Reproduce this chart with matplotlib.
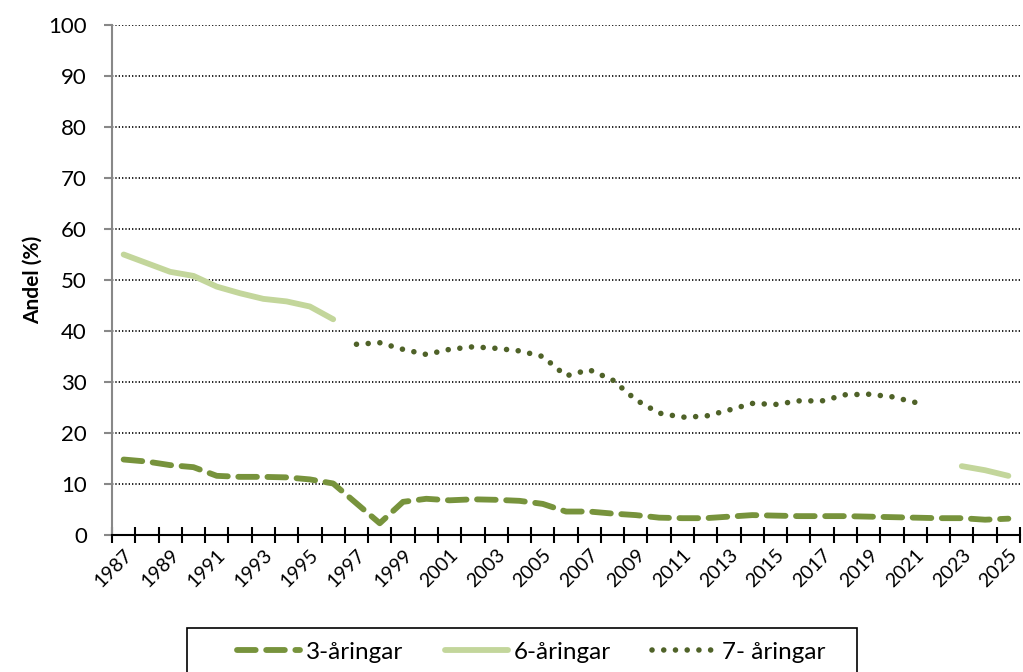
import numpy as np
import matplotlib.pyplot as plt
from matplotlib.patches import Rectangle

# ---------------------------------------------------------
# Data: share (%) per year for each age group
# ---------------------------------------------------------
years = list(range(1987, 2026))
nan = np.nan

# 3-year-olds: full series
aged3 = [14.8, 14.4, 13.7, 13.3, 11.6, 11.4, 11.4, 11.3, 10.9, 10.1,
         6.2, 2.3, 6.5, 7.1, 6.8, 7.0, 6.9, 6.7, 6.1, 4.6,
         4.6, 4.2, 3.9, 3.4, 3.3, 3.3, 3.6, 3.9, 3.8, 3.7,
         3.7, 3.7, 3.6, 3.5, 3.4, 3.3, 3.3, 3.0, 3.2]

# 6-year-olds: 1987-1996 and 2023-2025
aged6 = [55.0, 53.3, 51.6, 50.8, 48.7, 47.4, 46.3, 45.8, 44.8, 42.3] + \
        [nan] * 26 + [13.5, 12.7, 11.6]

# 7-year-olds: 1997-2021
aged7 = [nan] * 10 + \
        [37.4, 37.7, 36.4, 35.4, 36.4, 36.9, 36.6, 36.1, 35.0, 31.2,
         32.4, 30.4, 26.5, 23.9, 23.1, 23.3, 24.5, 25.8, 25.6, 26.3,
         26.3, 27.5, 27.6, 27.1, 26.0] + [nan] * 4

labels = ["3-åringar", "6-åringar", "7- åringar"]

# ---------------------------------------------------------
# Plot
# ---------------------------------------------------------
plt.rcParams['font.family'] = ['Lato', 'DejaVu Sans']

fig = plt.figure(figsize=(10.23, 6.72), dpi=100)
ax = fig.add_axes([112 / 1023, 1 - 535 / 672, 908 / 1023, 510 / 672])

x = np.arange(len(years))
ax.plot(x, aged3, color="#77933C", lw=4.2, ls=(0, (3.2, 1.8)),
        solid_capstyle="round", dash_capstyle="round", label=labels[0])
ax.plot(x, aged6, color="#C3D69B", lw=4.2, solid_capstyle="round",
        label=labels[1])
ax.plot(x, aged7, color="#4F6228", lw=4, ls=(0, (0.01, 2.1)),
        dash_capstyle="round", label=labels[2])

ax.set_xlim(-0.5, len(years) - 0.5)
ax.set_ylim(0, 100)
ax.set_yticks(range(0, 101, 10))
ax.tick_params(axis="y", labelsize=16, length=6, width=1.5,
               color="#888888", pad=12)

# year labels on every other category, tick marks between categories
ax.set_xticks(x[::2])
ax.set_xticklabels([str(y) for y in years[::2]], rotation=45,
                   ha="right", rotation_mode="anchor", fontsize=14)
ax.tick_params(axis="x", which="major", length=0, pad=8)
ax.set_xticks(np.arange(-0.5, len(years)), minor=True)
ax.tick_params(axis="x", which="minor", length=12, width=1.5,
               direction="inout", color="black")

ax.grid(axis="y", color="black", ls=(0, (0.8, 1.2)), lw=1.2)
ax.set_axisbelow(True)

for side in ["top", "right"]:
    ax.spines[side].set_visible(False)
ax.spines["left"].set_color("#888888")
ax.spines["left"].set_linewidth(1.5)
ax.spines["bottom"].set_linewidth(1.5)

ax.set_ylabel("Andel (%)", fontsize=15, fontweight="bold", labelpad=4)

# legend entries without frame, box drawn separately (runs off the bottom)
fig.legend(loc="center", bbox_to_anchor=(531 / 1023, 1 - 652 / 672),
           ncol=3, fontsize=17.5, frameon=False, handlelength=2.6,
           handletextpad=0.25, columnspacing=1.7)
fig.patches.append(Rectangle((187 / 1023, -0.05), 670 / 1023, 0.05 + 44 / 672,
                             transform=fig.transFigure, fill=False,
                             edgecolor="black", lw=1.2))

plt.savefig("out.png", dpi=100)
